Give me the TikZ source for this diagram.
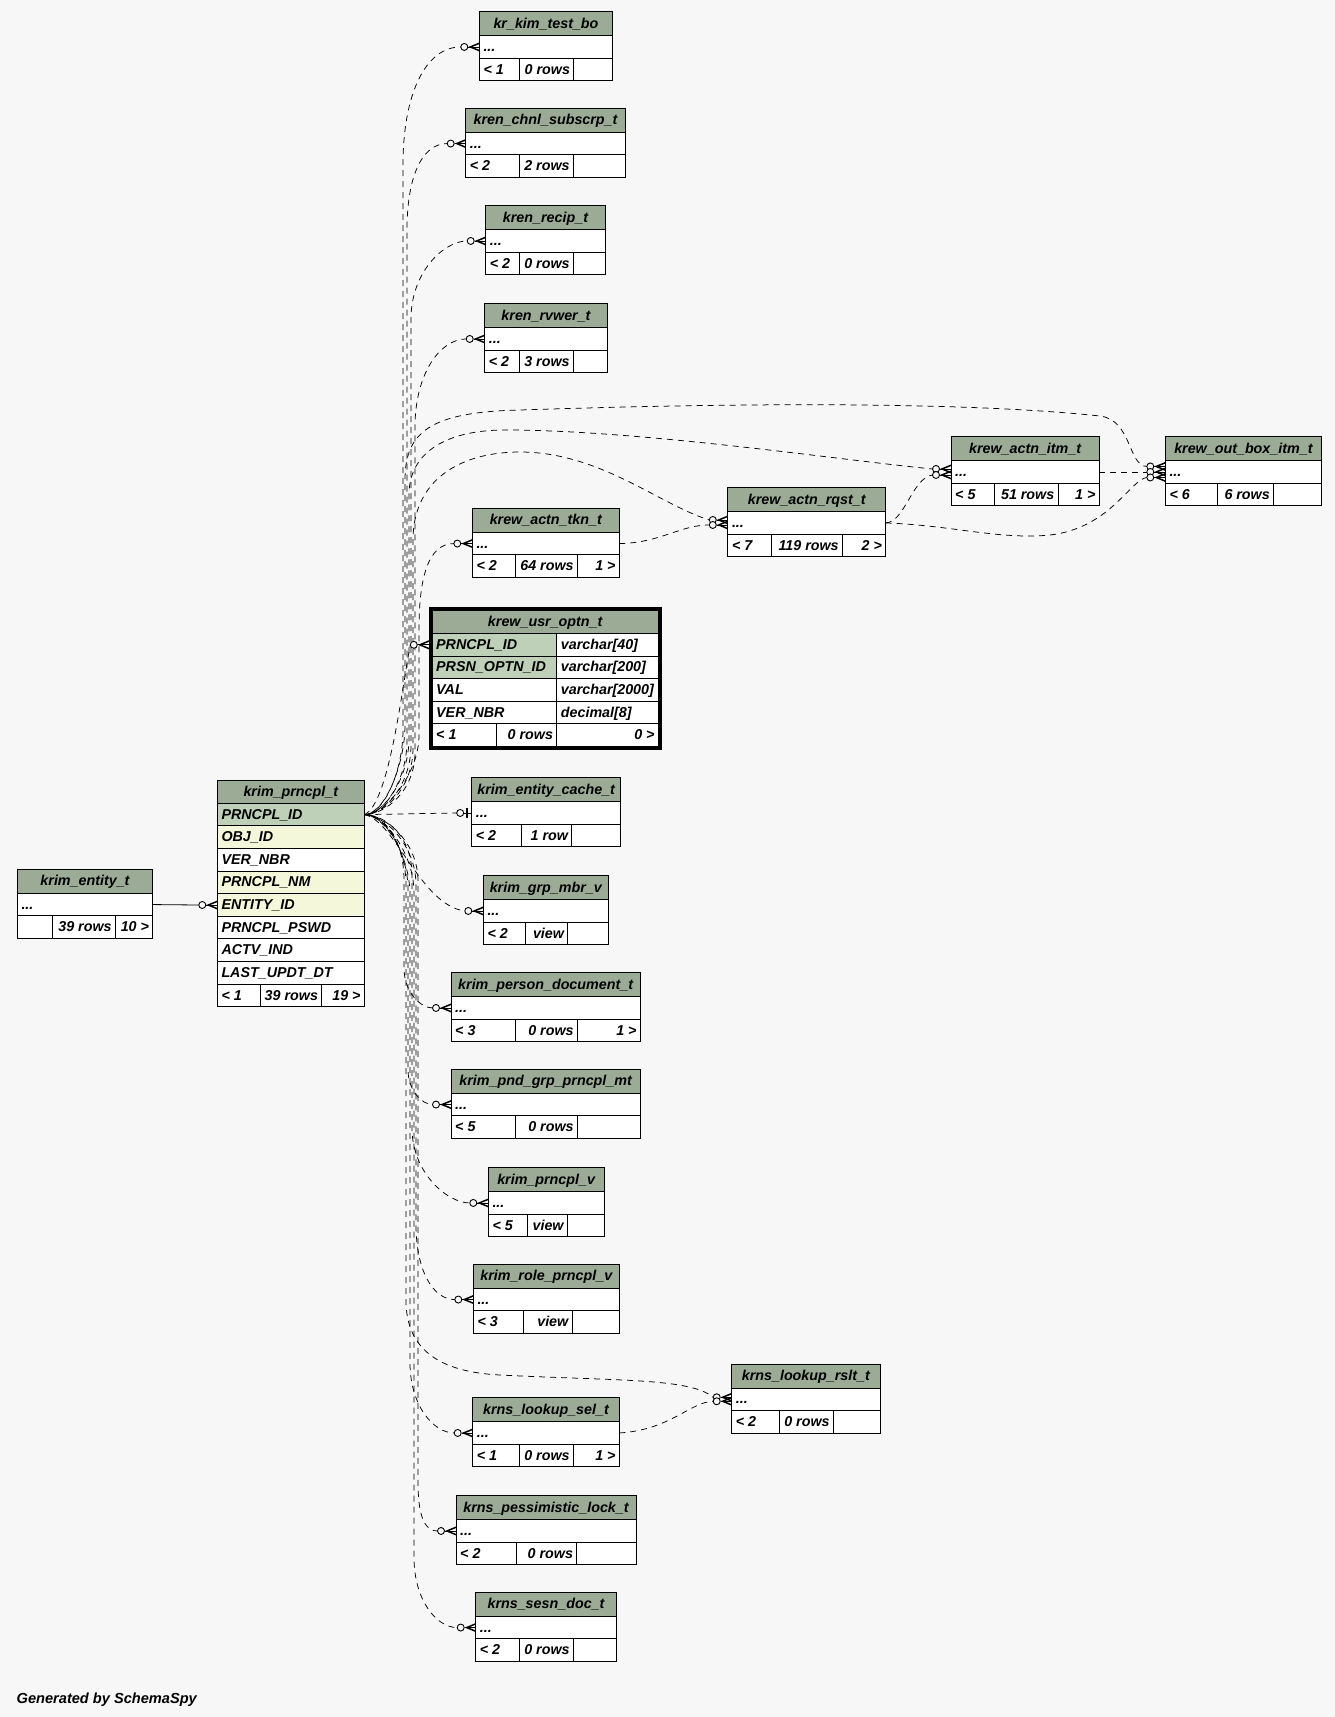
\documentclass[tikz,border=0pt]{standalone}
\usepackage{fontspec}
\setmainfont{Liberation Sans}
\usetikzlibrary{calc}
\definecolor{bg}{HTML}{F7F7F7}
\definecolor{hdr}{HTML}{9BAB96}
\definecolor{pkc}{HTML}{BED1B8}
\definecolor{idx}{HTML}{F4F7DA}
\tikzset{
  cell/.style={draw=black, line width=1pt},
  lbl/.style={inner sep=0pt, font=\fontsize{14.3}{16}\selectfont\bfseries\itshape},
  rel/.style={line width=0.75pt, dash pattern=on 6pt off 5pt},
  solidrel/.style={line width=0.8pt},
}
% small table: #1 name #2 x1 #3 top #4 x2 #5 d1 #6 d2 #7 title #8 footer-left #9 {mid}{right}
\newcommand\tbl[9]{%
  \def\tname{#1}%
  \pgfmathsetmacro\tya{#3+24}%
  \pgfmathsetmacro\tyb{#3+46.5}%
  \pgfmathsetmacro\tyc{#3+69}%
  \def\tdtwo{#6}\def\txtwo{#4}%
  \fill[hdr] (#2,#3) rectangle (#4,\tya);
  \fill[white] (#2,\tya) rectangle (#4,\tyc);
  \draw[cell] (#2,#3) rectangle (#4,\tyc) (#2,\tya) -- (#4,\tya) (#2,\tyb) -- (#4,\tyb)
     (#5,\tyb) -- (#5,\tyc) (#6,\tyb) -- (#6,\tyc);
  \node[lbl, anchor=base] (#1-title) at ({(#2+#4)/2},{#3+16.5}) {#7};
  \node[lbl, anchor=base west] (#1-dots) at ({#2+4},{#3+39.8}) {...};
  \node[lbl, anchor=base west] (#1-fl) at ({#2+4},{#3+62.3}) {#8};
  \coordinate (#1-w) at (#2,{#3+35.25});
  \coordinate (#1-e) at (#4,{#3+35.25});
  \coordinate (#1-t) at ({#2-18.5},{#3+35.25});
  \tblfoot#9%
}
\newcommand\tblfoot[2]{%
  \node[lbl, anchor=base east] (\tname-fm) at ({\tdtwo-3.5},{\tyc-6.7}) {#1};
  \if\relax\detokenize{#2}\relax\else
  \node[lbl, anchor=base east] (\tname-fr) at ({\txtwo-3.5},{\tyc-6.7}) {#2};\fi
}
% crow's foot with circle at edge point #1, vertical offset #2
\newcommand\manyend[2]{%
  \fill ($(#1)+(-11,#2)$) -- ++(11,-4.5) -- ++(0,1.6) -- ++(-7,2.9) -- ++(7,2.9) -- ++(0,1.6) -- cycle;
  \draw[line width=0.9pt] ($(#1)+(-11,#2)$) -- ($(#1)+(0,#2)$);
  \draw[line width=0.9pt, fill=bg] ($(#1)+(-15,#2)$) circle (3.5pt);
}
\newcommand\upline[5]{% #1 target, #2 bx, #3 ty, #4 h, #5 knee y
  \draw[rel, dash phase=#2pt] (S) .. controls +(20,0) and +(0,40) .. (#2,#5) -- (#2,{#3+#4})
    .. controls (#2,{#3+0.4*#4}) and ($(#1)+(-0.3*#4,0)$) .. (#1);
}
\newcommand\downline[5]{% #1 target, #2 bx, #3 ty, #4 h, #5 knee y
  \draw[rel, dash phase=#5pt] (S) .. controls +(20,0) and +(0,-40) .. (#2,#5) -- (#2,{#3-#4})
    .. controls (#2,{#3-0.4*#4}) and ($(#1)+(-0.3*#4,0)$) .. (#1);
}
\begin{document}
\begin{tikzpicture}[x=1pt,y=-1pt]
\fill[bg] (0,0) rectangle (1335,1717);
\useasboundingbox (0,0) rectangle (1335,1717);

% ---------- small tables ----------
\tbl{kim}{479.3}{11.7}{612.7}{519.3}{573.7}{kr\_kim\_test\_bo}{< 1}{{0 rows}{}}
\tbl{chnl}{465.7}{108.3}{625.3}{519.3}{573.3}{kren\_chnl\_subscrp\_t}{< 2}{{2 rows}{}}
\tbl{recip}{485.7}{205.7}{605.3}{519.3}{573.3}{kren\_recip\_t}{< 2}{{0 rows}{}}
\tbl{rvwer}{484.7}{303.7}{607.3}{519.3}{573.3}{kren\_rvwer\_t}{< 2}{{3 rows}{}}
\tbl{itm}{951}{436.7}{1099.2}{994.7}{1058}{krew\_actn\_itm\_t}{< 5}{{51 rows}{1 >}}
\tbl{ob}{1165.3}{436.7}{1321.5}{1217.6}{1273.5}{krew\_out\_box\_itm\_t}{< 6}{{6 rows}{}}
\tbl{rqst}{727.8}{487.7}{885.7}{771.8}{842.4}{krew\_actn\_rqst\_t}{< 7}{{119 rows}{2 >}}
\tbl{tkn}{472.3}{508.3}{619.3}{515.3}{577.3}{krew\_actn\_tkn\_t}{< 2}{{64 rows}{1 >}}
\tbl{cache}{471.7}{777.7}{620.7}{521.7}{571.7}{krim\_entity\_cache\_t}{< 2}{{1 row}{}}
\tbl{grp}{483.3}{875.7}{608.3}{525.7}{567.7}{krim\_grp\_mbr\_v}{< 2}{{view}{}}
\tbl{pdoc}{451}{972.7}{640.3}{515.3}{577.3}{krim\_person\_document\_t}{< 3}{{0 rows}{1 >}}
\tbl{pnd}{451}{1069.3}{640.3}{515.3}{577.3}{krim\_pnd\_grp\_prncpl\_mt}{< 5}{{0 rows}{}}
\tbl{pv}{488.3}{1167.7}{604}{527.3}{567.3}{krim\_prncpl\_v}{< 5}{{view}{}}
\tbl{role}{473.3}{1264.3}{619.3}{523.3}{572}{krim\_role\_prncpl\_v}{< 3}{{view}{}}
\tbl{rslt}{731.7}{1364}{880}{779.3}{833.3}{krns\_lookup\_rslt\_t}{< 2}{{0 rows}{}}
\tbl{sel}{472.7}{1397.7}{619.3}{519.3}{573.3}{krns\_lookup\_sel\_t}{< 1}{{0 rows}{1 >}}
\tbl{pess}{456}{1495.7}{636}{516.3}{576.7}{krns\_pessimistic\_lock\_t}{< 2}{{0 rows}{}}
\tbl{sesn}{475.7}{1592.3}{616.3}{519.3}{573.3}{krns\_sesn\_doc\_t}{< 2}{{0 rows}{}}
\tbl{ent}{17.3}{869.3}{152.7}{52.3}{115.3}{krim\_entity\_t}{}{{39 rows}{10 >}}

% ---------- krim_prncpl_t ----------
\fill[hdr] (217.3,780) rectangle (364.3,803.3);
\foreach \cc [count=\i from 0] in {pkc,idx,white,idx,idx,white,white,white,white}{
  \fill[\cc] (217.3,{803.3+22.6*\i}) rectangle (364.3,{825.9+22.6*\i});
}
\draw[cell] (217.3,780) rectangle (364.3,1006.7);
\foreach \i in {0,...,8}{ \draw[cell] (217.3,{803.3+22.6*\i}) -- (364.3,{803.3+22.6*\i}); }
\draw[cell] (260,984.5) -- (260,1006.7) (321.7,984.5) -- (321.7,1006.7);
\node[lbl, anchor=base] (prn-title) at (290.8,796.2) {krim\_prncpl\_t};
\foreach \nm [count=\i from 0] in {PRNCPL\_ID,OBJ\_ID,VER\_NBR,PRNCPL\_NM,ENTITY\_ID,PRNCPL\_PSWD,ACTV\_IND,LAST\_UPDT\_DT}{
  \node[lbl, anchor=base west] (prn-r\i) at (221.3,{819.1+22.6*\i}) {\nm};
}
\node[lbl, anchor=base west] (prn-fl) at (221.3,1000.3) {< 1};
\node[lbl, anchor=base east] (prn-fm) at (318.2,1000.3) {39 rows};
\node[lbl, anchor=base east] (prn-fr) at (360.8,1000.3) {19 >};
\coordinate (S) at (364.3,814.6);
\coordinate (prn-ent) at (217.3,905);
\coordinate (prn-ent-t) at (198.8,905);

% ---------- krew_usr_optn_t ----------
\fill[hdr] (432,610.5) rectangle (658.3,633.5);
\foreach \cc [count=\i from 0] in {pkc,pkc,white,white,white}{
  \fill[\cc] (432,{633.5+22.6*\i}) rectangle (556.7,{656.1+22.6*\i});
}
\fill[white] (556.7,633.5) rectangle (658.3,746.5);
\draw[cell] (432,610.5) rectangle (658.3,746.5);
\foreach \i in {0,...,4}{ \draw[cell] (432,{633.5+22.6*\i}) -- (658.3,{633.5+22.6*\i}); }
\draw[cell] (556.7,633.5) -- (556.7,746.5) (496,723.9) -- (496,746.5);
\draw[line width=3.2pt] (430.4,608.9) rectangle (659.9,748.1);
\node[lbl, anchor=base] (usr-title) at (545.2,626.5) {krew\_usr\_optn\_t};
\foreach \nm/\ty [count=\i from 0] in {PRNCPL\_ID/varchar[40],PRSN\_OPTN\_ID/varchar[200],VAL/varchar[2000],VER\_NBR/decimal[8]}{
  \node[lbl, anchor=base west] (usr-n\i) at (436,{649.3+22.6*\i}) {\nm};
  \node[lbl, anchor=base west] (usr-y\i) at (560.7,{649.3+22.6*\i}) {\ty};
}
\node[lbl, anchor=base west] (usr-fl) at (436,739.7) {< 1};
\node[lbl, anchor=base east] (usr-fm) at (553.2,739.7) {0 rows};
\node[lbl, anchor=base east] (usr-fr) at (654.8,739.7) {0 >};
\coordinate (usr-w) at (428.8,644.8);
\coordinate (usr-t) at (410.3,644.8);

% ---------- extra end points ----------
\coordinate (ob-t1) at ($(ob-w)+(-18.5,-5.5)$);
\coordinate (ob-t2) at ($(ob-w)+(-18.5,0)$);
\coordinate (ob-t3) at ($(ob-w)+(-18.5,5.5)$);
\coordinate (itm-t1) at ($(itm-w)+(-18.5,-3)$);
\coordinate (itm-t2) at ($(itm-w)+(-18.5,3)$);
\coordinate (rqst-t1) at ($(rqst-w)+(-18.5,-3)$);
\coordinate (rqst-t2) at ($(rqst-w)+(-18.5,2)$);
\coordinate (rslt-t1) at ($(rslt-w)+(-18.5,-2)$);
\coordinate (rslt-t2) at ($(rslt-w)+(-18.5,2)$);
\coordinate (cache-t) at ($(cache-w)+(-15,0)$);

% ---------- connectors up ----------
\upline{kim-t}{403}{46.95}{118}{730}
\upline{chnl-t}{407}{143.55}{86}{740}
\upline{recip-t}{411}{240.95}{78}{745}
\upline{rvwer-t}{415}{338.95}{88}{752}
\upline{tkn-t}{419}{543.55}{86}{735}
\draw[rel] (S) .. controls +(25,-10) and +(-8,40) .. (usr-t);
% arcs
\draw[rel, dash phase=2pt] (S) .. controls +(20,0) and +(0,40) .. (405,725) -- (405,480)
  .. controls (405,432) and (430,412) .. (520,410)
  .. controls (700,404) and (950,400) .. (1100,416)
  .. controls (1132,420) and (1128,466) .. (ob-t1);
\draw[rel, dash phase=7pt] (S) .. controls +(20,0) and +(0,40) .. (409,738) -- (409,495)
  .. controls (409,450) and (450,430) .. (505,430)
  .. controls (640,430) and (840,460) .. (itm-t1);
\draw[rel, dash phase=4pt] (S) .. controls +(20,0) and +(0,40) .. (413,748) -- (413,540)
  .. controls (413,480) and (460,452) .. (520,452)
  .. controls (600,452) and (660,505) .. (rqst-t1);
\draw[rel] (tkn-e) .. controls (660,543) and (680,525) .. (rqst-t2);
\draw[rel] (rqst-e) .. controls (905,522) and (912,478) .. (itm-t2);
\draw[rel] (itm-e) -- (ob-t2);
\draw[rel] (rqst-e) .. controls (950,525) and (1000,540) .. (1050,535)
  .. controls (1110,528) and (1130,480) .. (ob-t3);

% ---------- connectors down ----------
\draw[rel] (S) -- (cache-t);
\draw[rel] (S) .. controls (395,820) and (420,905) .. (grp-t);
\downline{pdoc-t}{404}{1007.95}{40}{880}
\downline{pnd-t}{408}{1104.55}{35}{890}
\downline{pv-t}{412}{1202.95}{75}{875}
\downline{role-t}{416}{1299.55}{75}{885}
\downline{sel-t}{410}{1432.95}{70}{895}
\downline{pess-t}{418}{1530.95}{50}{881}
\downline{sesn-t}{414}{1627.55}{70}{893}
\draw[rel, dash phase=3pt] (S) .. controls +(20,0) and +(0,-40) .. (406,885) -- (406,1300)
  .. controls (406,1350) and (440,1372) .. (500,1375)
  .. controls (620,1381) and (690,1378) .. (rslt-t1);
\draw[rel] (sel-e) .. controls (670,1430) and (690,1402) .. (rslt-t2);
\draw[solidrel] (ent-e) -- (prn-ent-t);

% ---------- ends ----------
\foreach \n in {kim,chnl,recip,rvwer,tkn,grp,pdoc,pnd,pv,role,sel,pess,sesn}{ \manyend{\n-w}{0} }
\manyend{usr-w}{0}
\manyend{ob-w}{-5.5}\manyend{ob-w}{0}\manyend{ob-w}{5.5}
\manyend{itm-w}{-3}\manyend{itm-w}{3}
\manyend{rqst-w}{-3}\manyend{rqst-w}{2}
\manyend{rslt-w}{-2}\manyend{rslt-w}{2}
\manyend{prn-ent}{0}
\draw[line width=0.9pt] ($(cache-w)+(-8,0)$) -- (cache-w);
\draw[line width=2pt] ($(cache-w)+(-4.5,-5)$) -- ($(cache-w)+(-4.5,5)$);
\draw[line width=0.9pt, fill=bg] ($(cache-w)+(-11.5,0)$) circle (3.5pt);

\node[lbl, anchor=base west, font=\fontsize{14.6}{16}\selectfont\bfseries\itshape] (gen) at (16.5,1703) {Generated by SchemaSpy};
\end{tikzpicture}
\end{document}
